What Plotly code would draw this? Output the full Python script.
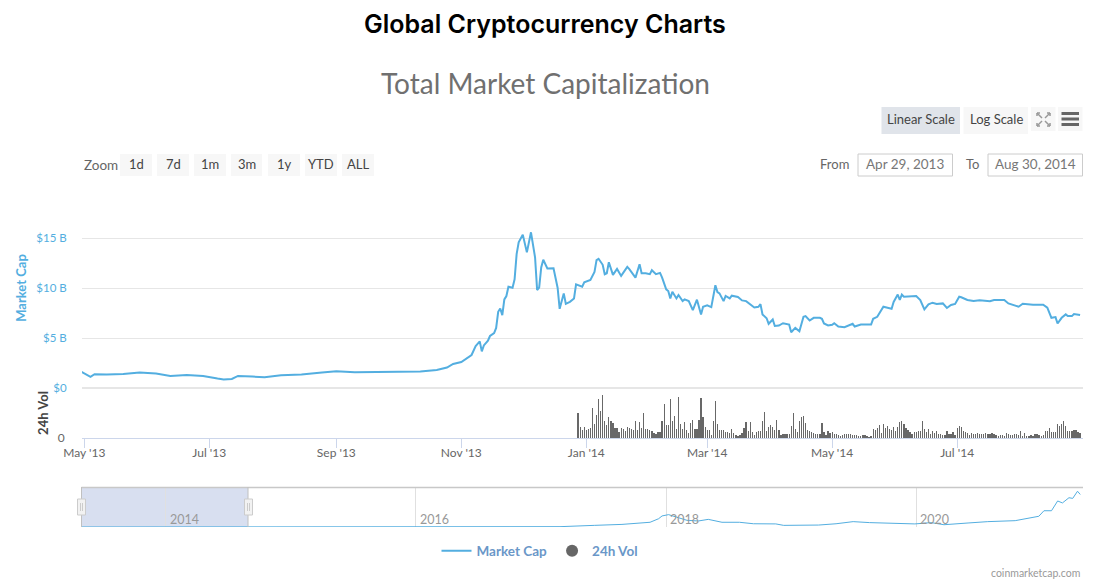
import pandas as pd
import plotly.graph_objects as go

W, H = 1101, 584

# Market cap in $B
cap_dates = [
    "2013-04-29", "2013-05-04", "2013-05-06", "2013-05-12", "2013-05-20", "2013-05-28", "2013-06-05", "2013-06-12",
    "2013-06-20", "2013-06-28", "2013-07-05", "2013-07-08", "2013-07-12", "2013-07-15", "2013-07-22", "2013-07-28",
    "2013-08-05", "2013-08-15", "2013-08-25", "2013-09-01", "2013-09-10", "2013-09-20", "2013-10-01", "2013-10-12",
    "2013-10-20", "2013-10-25", "2013-10-28", "2013-11-01", "2013-11-06", "2013-11-08",
    "2013-11-10", "2013-11-11", "2013-11-12", "2013-11-14", "2013-11-15", "2013-11-17", "2013-11-18", "2013-11-19",
    "2013-11-20", "2013-11-21", "2013-11-22", "2013-11-23", "2013-11-24", "2013-11-26", "2013-11-27", "2013-11-28",
    "2013-11-29", "2013-12-01", "2013-12-03", "2013-12-05", "2013-12-07", "2013-12-08", "2013-12-09", "2013-12-10",
    "2013-12-11", "2013-12-13", "2013-12-16", "2013-12-18", "2013-12-19", "2013-12-21", "2013-12-22", "2013-12-24",
    "2013-12-26", "2013-12-27", "2013-12-30", "2013-12-31", "2014-01-03", "2014-01-05", "2014-01-06", "2014-01-07",
    "2014-01-09", "2014-01-10", "2014-01-11", "2014-01-12", "2014-01-14", "2014-01-16", "2014-01-18", "2014-01-21",
    "2014-01-22", "2014-01-25", "2014-01-27", "2014-01-28", "2014-01-30", "2014-02-01", "2014-02-02", "2014-02-04",
    "2014-02-06", "2014-02-07", "2014-02-09", "2014-02-10", "2014-02-11", "2014-02-12", "2014-02-14", "2014-02-15",
    "2014-02-17", "2014-02-18", "2014-02-20", "2014-02-22", "2014-02-24", "2014-02-26", "2014-02-27", "2014-03-01",
    "2014-03-03", "2014-03-05", "2014-03-06", "2014-03-07", "2014-03-09", "2014-03-10", "2014-03-12", "2014-03-13",
    "2014-03-16", "2014-03-18", "2014-03-20", "2014-03-23", "2014-03-24", "2014-03-26", "2014-03-27", "2014-03-28",
    "2014-03-30", "2014-03-31", "2014-04-02", "2014-04-03", "2014-04-05", "2014-04-07", "2014-04-10", "2014-04-11",
    "2014-04-13", "2014-04-15", "2014-04-17", "2014-04-18", "2014-04-20", "2014-04-22", "2014-04-25", "2014-04-26",
    "2014-04-27", "2014-04-29", "2014-05-01", "2014-05-02", "2014-05-04", "2014-05-07", "2014-05-09", "2014-05-11",
    "2014-05-12", "2014-05-15", "2014-05-20", "2014-05-21", "2014-05-23", "2014-05-24", "2014-05-26", "2014-05-28",
    "2014-05-30", "2014-05-31", "2014-06-02", "2014-06-03", "2014-06-04", "2014-06-05", "2014-06-11", "2014-06-13",
    "2014-06-15", "2014-06-17", "2014-06-19", "2014-06-21", "2014-06-24", "2014-06-26", "2014-06-28", "2014-06-30",
    "2014-07-02", "2014-07-03", "2014-07-06", "2014-07-09", "2014-07-12", "2014-07-17", "2014-07-19", "2014-07-24",
    "2014-07-26", "2014-07-31", "2014-08-02", "2014-08-07", "2014-08-12", "2014-08-14", "2014-08-16", "2014-08-18",
    "2014-08-19", "2014-08-21", "2014-08-23", "2014-08-24", "2014-08-26", "2014-08-27", "2014-08-30",
]
cap_values = [
    1.68, 1.11, 1.38, 1.34, 1.41, 1.54, 1.44, 1.21,
    1.31, 1.21, 0.94, 0.84, 0.91, 1.21, 1.14, 1.07,
    1.28, 1.34, 1.54, 1.68, 1.58, 1.61, 1.65, 1.65,
    1.8, 2.05, 2.4, 2.6, 3.3, 4.2,
    4.66, 3.66, 4.26, 4.73, 5.2, 5.5, 6.01, 7.62,
    7.95, 7.28, 8.86, 9.2, 10.13, 10.03, 10.87, 13.39,
    14.56, 15.34, 13.56, 15.57, 13.05, 9.8, 10.03, 12.05,
    12.82, 11.95, 11.98, 10.03, 7.92, 9.46, 8.42, 8.62,
    8.96, 10.37, 10.13, 10.57, 10.81, 11.61, 12.79, 12.92,
    12.32, 11.38, 11.48, 12.58, 11.31, 11.91, 11.21, 12.11,
    11.88, 11.04, 12.38, 11.48, 11.48, 11.38, 11.78, 11.38,
    11.51, 11.04, 9.87, 9.7, 8.96, 9.63, 8.96, 9.3,
    8.69, 8.86, 8.69, 7.79, 8.83, 7.35, 8.12, 8.26,
    8.09, 10.27, 9.6, 9.46, 8.69, 9.2, 8.96, 9.23,
    9.1, 8.76, 8.69, 8.19, 8.05, 8.12, 8.39, 7.36,
    6.98, 6.42, 6.85, 6.2, 6.25, 6.48, 6.35, 5.58,
    6.01, 5.68, 7.12, 7.19, 6.75, 7.02, 7.02, 6.92,
    6.45, 6.25, 6.32, 6.48, 6.15, 6.08, 6.28, 6.42,
    6.15, 6.35, 6.35, 6.92, 7.12, 7.42, 8.13, 8.03,
    7.93, 8.6, 9.34, 8.8, 9.34, 9.13, 9.2, 8.8,
    7.86, 8.36, 8.53, 8.4, 8.46, 8.0, 8.3, 8.4,
    9.13, 9.07, 8.8, 8.7, 8.77, 8.67, 8.8, 8.8,
    8.46, 8.13, 8.43, 8.33, 8.33, 8.03, 7.02, 7.09,
    6.45, 7.02, 7.36, 7.19, 7.19, 7.39, 7.29,
]

# 24h volume in $M, one bar per day up to Aug 30 2014
vol_values = [
    494, 214, 160, 214, 160, 180, 200, 600, 280, 460, 780, 540, 860, 340, 260, 420,
    340, 300, 200, 200, 120, 200, 180, 140, 220, 200, 180, 160, 340, 160, 320, 200,
    500, 180, 180, 160, 140, 100, 80, 120, 120, 340, 680, 260, 260, 780, 340, 440,
    180, 820, 280, 180, 320, 160, 100, 300, 360, 180, 180, 360, 800, 420, 220, 160,
    160, 60, 340, 740, 280, 160, 160, 160, 120, 120, 100, 180, 100, 60, 40, 60,
    100, 200, 320, 140, 320, 120, 60, 120, 140, 140, 340, 520, 140, 220, 260, 220,
    160, 360, 160, 60, 80, 80, 80, 80, 240, 500, 180, 120, 340, 420, 440, 300,
    160, 140, 120, 100, 80, 80, 80, 300, 120, 60, 140,
    100, 130, 80, 80, 60, 50, 60, 80, 80, 80, 80, 60, 70, 60, 50, 50,
    60, 60, 40, 30, 40, 180, 160, 200, 260, 100, 290, 200, 240, 180, 160, 220,
    140, 220, 320, 340, 280, 200, 160, 120, 80, 120, 120, 140, 140, 340, 180, 120,
    180, 80, 140, 100, 140, 80, 80, 60, 60, 140, 80, 80, 120, 60, 200, 240, 220,
    140, 120, 100, 60, 100, 80, 80, 100, 80, 80, 80, 100, 80, 80, 100, 80, 60, 50,
    60, 60, 40, 100, 80, 60, 60, 80, 80, 60, 140, 40, 100, 40, 40, 60, 40,
    80, 80, 60, 40, 60, 140, 140, 200, 120, 120, 120, 280, 240, 280, 340, 240, 140,
    140, 140, 160, 160, 120, 100,
]
vol_dates = pd.date_range(end="2014-08-30", periods=len(vol_values), freq="D")

# navigator series, whole history in $B
nav_dates = [
    "2013-04-30", "2014-01-05", "2015-01-01", "2016-01-01", "2017-02-25", "2017-06-05", "2017-08-25", "2017-11-15",
    "2017-12-10", "2017-12-20", "2018-01-08", "2018-02-06", "2018-03-03", "2018-04-05", "2018-05-04", "2018-06-13",
    "2018-08-03", "2018-09-13", "2018-11-17", "2018-12-10", "2019-03-22", "2019-05-12", "2019-07-01", "2019-08-18",
    "2019-10-19", "2019-12-28", "2020-02-14", "2020-03-22", "2020-06-03", "2020-07-28", "2020-10-16", "2020-12-24",
    "2021-01-08", "2021-01-30", "2021-02-17", "2021-03-03", "2021-03-22", "2021-04-02", "2021-04-16", "2021-04-24",
]
nav_values = [
    2, 11, 5, 7, 20, 100, 160, 290,
    510, 680, 760, 570, 410, 370, 470, 290,
    290, 200, 190, 100, 120, 200, 330, 270,
    230, 190, 270, 140, 250, 330, 390, 660,
    1000, 1000, 1600, 1480, 1800, 1760, 2200, 2000,
]

x_ticks = ["2013-05-01", "2013-07-01", "2013-09-01", "2013-11-01", "2014-01-01", "2014-03-01", "2014-05-01", "2014-07-01"]
x_labels = ["May '13", "Jul '13", "Sep '13", "Nov '13", "Jan '14", "Mar '14", "May '14", "Jul '14"]
cap_ticks = [0, 5, 10, 15, 20]
cap_labels = ["$0", "$5 B", "$10 B", "$15 B", ""]
nav_years = ["2014", "2016", "2018", "2020"]

zoom_buttons = [("1d", 120, 152), ("7d", 157, 189), ("1m", 194, 226), ("3m", 231, 262),
                ("1y", 268, 300), ("YTD", 305, 337), ("ALL", 342, 374)]

BLUE = "#53aee0"
GREY = "#666666"
FONT = "Lato, sans-serif"


def px(x):
    return x / W


def py(y):
    return 1 - y / H


fig = go.Figure()
fig.add_trace(go.Scatter(x=cap_dates, y=cap_values, mode="lines", name="Market Cap",
                         line=dict(color=BLUE, width=2), xaxis="x", yaxis="y"))
# the slight transparency makes plotly round the thin bars instead of widening them
fig.add_trace(go.Bar(x=vol_dates, y=vol_values, name="24h Vol", showlegend=False,
                     marker=dict(color="rgba(102,102,102,0.99)", line=dict(width=0)), width=0.62 * 86400000,
                     xaxis="x", yaxis="y2"))
# legend key only, the bars themselves would give a square
fig.add_trace(go.Scatter(x=[None], y=[None], mode="markers", name="24h Vol",
                         marker=dict(color=GREY, size=12), xaxis="x", yaxis="y2"))
fig.add_trace(go.Scatter(x=nav_dates, y=nav_values, mode="lines", showlegend=False,
                         line=dict(color=BLUE, width=1), xaxis="x3", yaxis="y3"))

shapes = []
annotations = []


def box(x0, y0, x1, y1, fill, line=None, layer="above", width=1):
    shapes.append(dict(type="rect", xref="paper", yref="paper", x0=px(x0), x1=px(x1), y0=py(y0), y1=py(y1),
                       fillcolor=fill, line=dict(color=line or "rgba(0,0,0,0)", width=width if line else 0),
                       layer=layer))


def seg(x0, y0, x1, y1, color, width=1):
    shapes.append(dict(type="line", xref="paper", yref="paper", x0=px(x0), x1=px(x1), y0=py(y0), y1=py(y1),
                       line=dict(color=color, width=width)))


def label(x, y, text, size=13, color=GREY, anchor="center", family=FONT, weight=None):
    annotations.append(dict(xref="paper", yref="paper", x=px(x), y=py(y), text=text, showarrow=False,
                            xanchor=anchor, yanchor="middle",
                            font=dict(size=size, color=color, family=family, weight=weight)))


label(545, 24, "Global Cryptocurrency Charts", size=25, color="#000000", family="Inter, sans-serif", weight=600)
label(545, 83, "Total Market Capitalization", size=28, color="#707070", family=FONT)

# top right buttons
box(881.5, 107, 960, 134, "#e0e4ea")
box(963.5, 107, 1028, 134, "#f7f7f7")
box(1031, 107, 1055.5, 131, "#f7f7f7")
box(1058, 107, 1082.5, 131, "#f7f7f7")
label(920.5, 119, "Linear Scale", size=13, color="#444444")
label(996, 119, "Log Scale", size=13, color="#444444")
for y in (113.5, 119, 124.5):
    seg(1061.5, y, 1079, y, GREY, 3)
# fullscreen icon
for xa, ya, xb, yb in ((1037, 113, 1042, 118), (1050, 113, 1045, 118), (1037, 126, 1042, 121), (1050, 126, 1045, 121)):
    seg(xa, ya, xb, yb, "#999999", 1.5)
    seg(xa, ya, xa + (3 if xb > xa else -3), ya, "#999999", 1.5)
    seg(xa, ya, xa, ya + (3 if yb > ya else -3), "#999999", 1.5)

# range selector row
label(82, 165, "Zoom", size=13.5, anchor="left")
for name, x0, x1 in zoom_buttons:
    box(x0, 154, x1, 176, "#f7f7f7")
    label((x0 + x1) / 2, 164, name, size=13, color="#444444")
label(851, 164, "From", size=13, anchor="right")
box(858, 154, 952.5, 176, "#ffffff", "#cccccc")
label(905, 164, "Apr 29, 2013", size=13.5, color="#777777")
label(972, 164, "To", size=13)
box(988, 154, 1082.5, 176, "#ffffff", "#cccccc")
label(1035, 164, "Aug 30, 2014", size=13.5, color="#777777")

# navigator
box(81.5, 487, 248, 527, "#d8dff0", layer="below")
seg(81.5, 487.5, 1083, 487.5, "#c8c8c8", 1.5)
seg(81.5, 487, 81.5, 527, "#c0c0c0", 1)
seg(248, 487, 248, 527, "#c0c0c0", 1)
for cx in (81.5, 248.5):
    box(cx - 4, 499, cx + 4, 515, "#f2f2f2", "#cccccc")
    seg(cx - 1, 503, cx - 1, 511, "#cccccc", 1)
    seg(cx + 1, 503, cx + 1, 511, "#cccccc", 1)
for year in nav_years:
    annotations.append(dict(xref="x3", yref="paper", x=year + "-01-01", y=py(519), text=year, showarrow=False,
                            xanchor="left", yanchor="middle", xshift=2,
                            font=dict(size=12.5, color="#999999", family=FONT)))

label(1082, 573, "coinmarketcap.com", size=10.5, color="#999999", anchor="right")

fig.update_layout(
    width=W, height=H, margin=dict(l=0, r=0, t=0, b=0, autoexpand=False),
    paper_bgcolor="#ffffff", plot_bgcolor="#ffffff",
    font=dict(family=FONT, size=12, color=GREY),
    shapes=shapes, annotations=annotations, bargap=0,
    legend=dict(orientation="h", x=px(540), xanchor="center",
                y=py(551), yanchor="middle",
                font=dict(size=13.5, color="#6a97c8", family=FONT, weight="bold"),
                itemwidth=30, bgcolor="rgba(0,0,0,0)"),
    xaxis=dict(domain=[px(82), px(1083)], anchor="y2", type="date", automargin=False,
               range=["2013-04-29 21:00", "2014-08-31 10:00"],
               tickmode="array", tickvals=x_ticks, ticktext=x_labels,
               ticks="outside", ticklen=9, tickcolor="#ccd6eb", tickwidth=1, ticklabelstandoff=-5,
               showline=True, linecolor="#ccd6eb", showgrid=False, zeroline=False,
               tickfont=dict(size=12, color=GREY)),
    yaxis=dict(domain=[py(388), py(188)], range=[0, 20], anchor="x", automargin=False,
               tickmode="array", tickvals=cap_ticks, ticktext=cap_labels,
               tickfont=dict(size=11.5, color=BLUE),
               ticks="outside", ticklen=12, tickcolor="rgba(0,0,0,0)",
               gridcolor="#e6e6e6", gridwidth=1, zeroline=True, zerolinecolor="#e6e6e6", zerolinewidth=2,
               title=dict(text="<b>Market Cap</b>", font=dict(size=13, color=BLUE), standoff=6)),
    yaxis2=dict(domain=[py(438), py(388)], range=[0, 1000], anchor="x", automargin=False,
                tickmode="array", tickvals=[0], ticktext=["0"],
                tickfont=dict(size=12, color=GREY),
                ticks="outside", ticklen=14, tickcolor="rgba(0,0,0,0)",
                showgrid=False, zeroline=False,
                title=dict(text="<b>24h Vol</b>", font=dict(size=13, color="#444444"), standoff=6)),
    xaxis3=dict(domain=[px(81.5), px(1083)], anchor="y3", type="date", automargin=False,
                range=["2013-04-30", "2021-05-02"],
                tickmode="array", tickvals=[y + "-01-01" for y in nav_years], showticklabels=False,
                ticks="", showgrid=True, gridcolor="#e0e0e0", zeroline=False, showline=False),
    yaxis3=dict(domain=[py(527), py(487)], range=[0, 2460], anchor="x3", automargin=False,
                showticklabels=False, showgrid=False, zeroline=False, ticks=""),
)

fig.write_html("out.html", config={"displayModeBar": False},
               post_script="document.body.style.margin='0';")
